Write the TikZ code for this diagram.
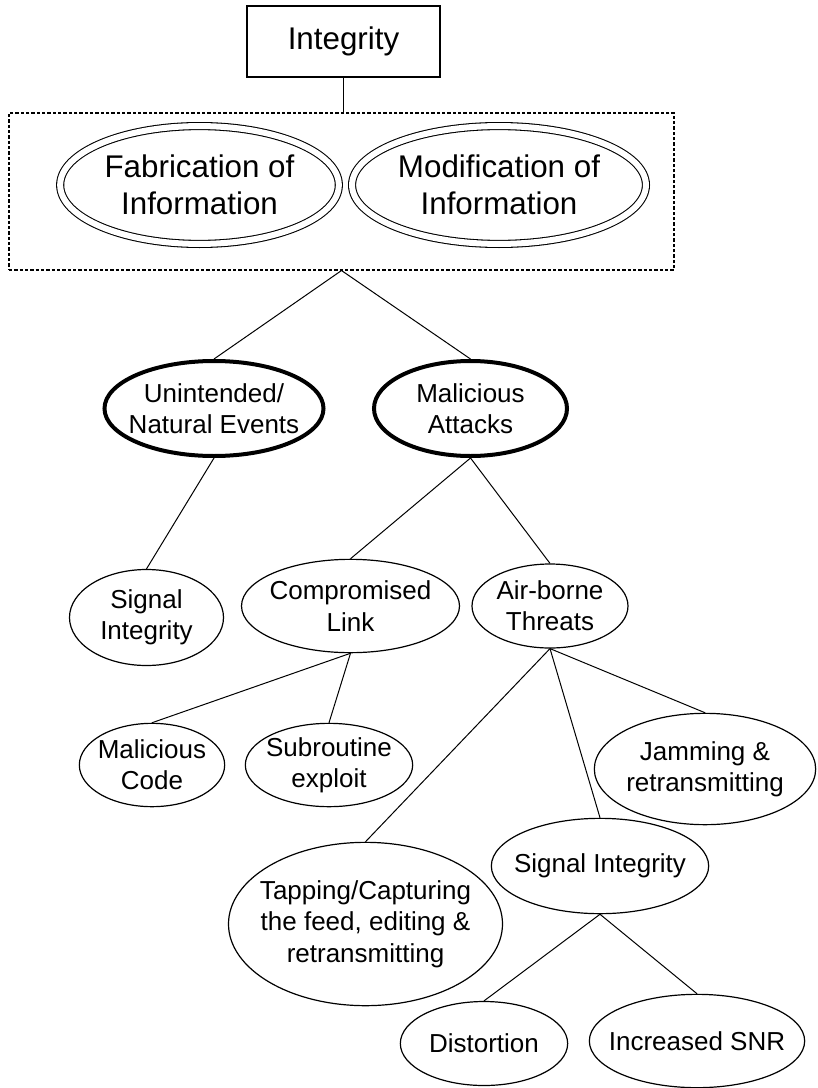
\documentclass[tikz,border=0pt]{standalone}
\usepackage{fontspec}
\setmainfont{Liberation Sans}
\usetikzlibrary{calc,shapes.geometric}

\tikzset{
  oval/.style 2 args={draw, ellipse, line width=0.9pt, align=center, inner sep=-40pt,
    minimum width=#1, minimum height=#2, font=\fontsize{19.5}{23.5}\selectfont},
  thickoval/.style 2 args={oval={#1}{#2}, line width=3pt},
  twinoval/.style 2 args={oval={#1}{#2}, double, double distance=4.5pt, line width=0.8pt,
    font=\fontsize{23.5}{27.5}\selectfont},
  link/.style={line width=0.75pt}
}

\begin{document}
\begin{tikzpicture}[x=0.75pt,y=-0.75pt]
\useasboundingbox (0,0) rectangle (817,1088);
\node[draw, line width=0.9pt, minimum width=144.75pt, minimum height=53.25pt,
  font=\fontsize{23.5}{27.5}\selectfont] (integrity) at (343.5,41.5) {Integrity};
\node[draw, line width=0.8pt, dash pattern=on 2.5pt off 1.5pt, minimum width=498.75pt,
  minimum height=117.75pt] (infobox) at (341.5,191.5) {};
\node[twinoval={209pt}{88.4pt}] (fabrication) at (199.5,185) {Fabrication of\\Information};
\node[twinoval={220.4pt}{88.4pt}] (modification) at (499,185) {Modification of\\Information};
\node[thickoval={164.25pt}{71.25pt}] (unintended) at (214,408.5) {Unintended/\\Natural Events};
\node[thickoval={144.75pt}{71.25pt}] (malicious) at (470.5,408.5) {Malicious\\Attacks};
\node[oval={115.5pt}{72pt}] (signalnat) at (146.5,617.5) {Signal\\Integrity};
\node[oval={163.5pt}{70pt}] (complink) at (350.5,606) {Compromised\\Link};
\node[oval={117pt}{63pt}] (airborne) at (550,606) {Air-borne\\Threats};
\node[oval={109pt}{62.5pt}] (malcode) at (152,765) {Malicious\\Code};
\node[oval={125.5pt}{62.5pt}] (subroutine) at (329,765) {Subroutine\\exploit};
\node[oval={166pt}{83.5pt}] (jamming) at (705,769) {Jamming \&\\retransmitting};
\node[oval={163pt}{71.5pt}] (signalair) at (600,866) {Signal Integrity};
\node[oval={205.5pt}{122.5pt}] (tapping) at (365.5,924) {Tapping/Capturing\\the feed, editing \&\\retransmitting};
\node[oval={125.5pt}{63pt}] (distortion) at (484,1043.5) {Distortion};
\node[oval={161.5pt}{70pt}] (snr) at (697,1041) {Increased SNR};
\draw[link] (integrity.south) -- (integrity.south |- infobox.north);
\draw[link] (infobox.south) -- (unintended.north);
\draw[link] (infobox.south) -- (malicious.north);
\draw[link] (unintended.south) -- (signalnat.north);
\draw[link] (malicious.south) -- (complink.north);
\draw[link] (malicious.south) -- (airborne.north);
\draw[link] (complink.south) -- (malcode.north);
\draw[link] (complink.south) -- (subroutine.north);
\draw[link] (airborne.south) -- (tapping.north);
\draw[link] (airborne.south) -- (signalair.north);
\draw[link] (airborne.south) -- (jamming.north);
\draw[link] (signalair.south) -- (distortion.north);
\draw[link] (signalair.south) -- (snr.north);
\end{tikzpicture}
\end{document}
